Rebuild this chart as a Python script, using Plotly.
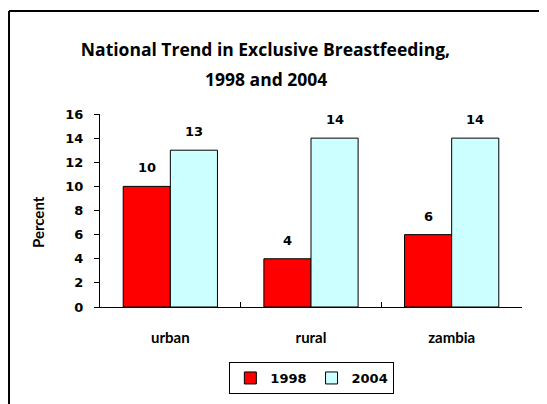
import plotly.graph_objects as go

categories = ['urban', 'rural', 'zambia']
values_1998 = [10, 4, 6]
values_2004 = [13, 14, 14]
y_ticks = [0, 2, 4, 6, 8, 10, 12, 14, 16]
title_lines = ['National Trend in Exclusive Breastfeeding,', '1998 and 2004']

WORD_FONT = 'Lato'
TITLE_FONT = 'Open Sans'
NUM_FONT = 'DejaVu Sans'

fig = go.Figure()
fig.add_trace(go.Bar(x=categories, y=values_1998, name='1998',
                     marker={'color': '#FF0000', 'line': {'color': 'black', 'width': 1}}))
fig.add_trace(go.Bar(x=categories, y=values_2004, name='2004',
                     marker={'color': '#CCFFFF', 'line': {'color': 'black', 'width': 1}}))

# value labels above bars
annotations = []
for vals, shift in [(values_1998, -23.5), (values_2004, 23.5)]:
    for c, v in zip(categories, vals):
        annotations.append({
            'x': c, 'y': v, 'xref': 'x', 'yref': 'y',
            'text': str(v), 'showarrow': False,
            'xshift': shift, 'yshift': 9, 'yanchor': 'bottom',
            'font': {'family': NUM_FONT, 'size': 13, 'color': 'black', 'weight': 'bold'},
        })

# second title line (wider line spacing than plotly's <br>)
annotations.append({
    'x': 0.3922, 'y': 1.1813, 'xref': 'paper', 'yref': 'paper',
    'text': title_lines[1], 'showarrow': False,
    'xanchor': 'center', 'yanchor': 'middle',
    'font': {'family': TITLE_FONT, 'size': 17.5, 'color': 'black', 'weight': 'bold'},
})

# y axis title
annotations.append({
    'x': -0.147, 'y': 0.44, 'xref': 'paper', 'yref': 'paper',
    'text': 'Percent', 'textangle': -90, 'showarrow': False,
    'xanchor': 'center', 'yanchor': 'middle',
    'font': {'family': WORD_FONT, 'size': 15, 'color': 'black', 'weight': 'bold'},
})

fig.update_layout(
    {
        "width": 547,
        "height": 404,
        "margin": {"l": 92, "r": 33, "t": 106, "b": 105},
        "paper_bgcolor": "white",
        "plot_bgcolor": "white",
        "barmode": "group",
        "bargap": 0.33,
        "bargroupgap": 0,
        "font": {"family": WORD_FONT, "color": "black"},
        "title": {
            "text": title_lines[0],
            "x": 0.4707,
            "xanchor": "center",
            "xref": "container",
            "y": 1 - 42 / 404,
            "yanchor": "middle",
            "yref": "container",
            "font": {"family": TITLE_FONT, "size": 17.5, "color": "black", "weight": "bold"},
        },
        "xaxis": {
            "showline": True,
            "linecolor": "black",
            "linewidth": 1,
            "ticks": "inside",
            "tickson": "boundaries",
            "ticklen": 5,
            "tickcolor": "black",
            "ticklabelstandoff": 17,
            "tickfont": {"family": WORD_FONT, "size": 15, "weight": "bold"},
        },
        "yaxis": {
            "range": [0, 16],
            "tickvals": y_ticks,
            "showline": True,
            "linecolor": "black",
            "linewidth": 1,
            "ticks": "outside",
            "ticklen": 5,
            "tickcolor": "black",
            "ticklabelstandoff": 8,
            "showgrid": False,
            "zeroline": False,
            "tickfont": {"family": NUM_FONT, "size": 13, "weight": "bold"},
        },
        "legend": {
            "orientation": "h",
            "x": 0.502,
            "xanchor": "center",
            "y": -0.285,
            "yanchor": "top",
            "bordercolor": "black",
            "borderwidth": 1,
            "font": {"family": NUM_FONT, "size": 13, "weight": "bold"},
            "itemwidth": 30,
            "traceorder": "normal",
        },
        "showlegend": True,
        "annotations": annotations,
        # outer frame; the page offset cuts it off at right and bottom
        "shapes": [
            {"type": "line", "xref": "paper", "yref": "paper",
             "x0": -0.2156, "x1": 1.2, "y0": 1.5337, "y1": 1.5337,
             "line": {"color": "black", "width": 2}},
            {"type": "line", "xref": "paper", "yref": "paper",
             "x0": -0.2156, "x1": -0.2156, "y0": 1.5337, "y1": -0.6,
             "line": {"color": "black", "width": 2}},
        ],
    }
)

fig.write_html("out.html")
